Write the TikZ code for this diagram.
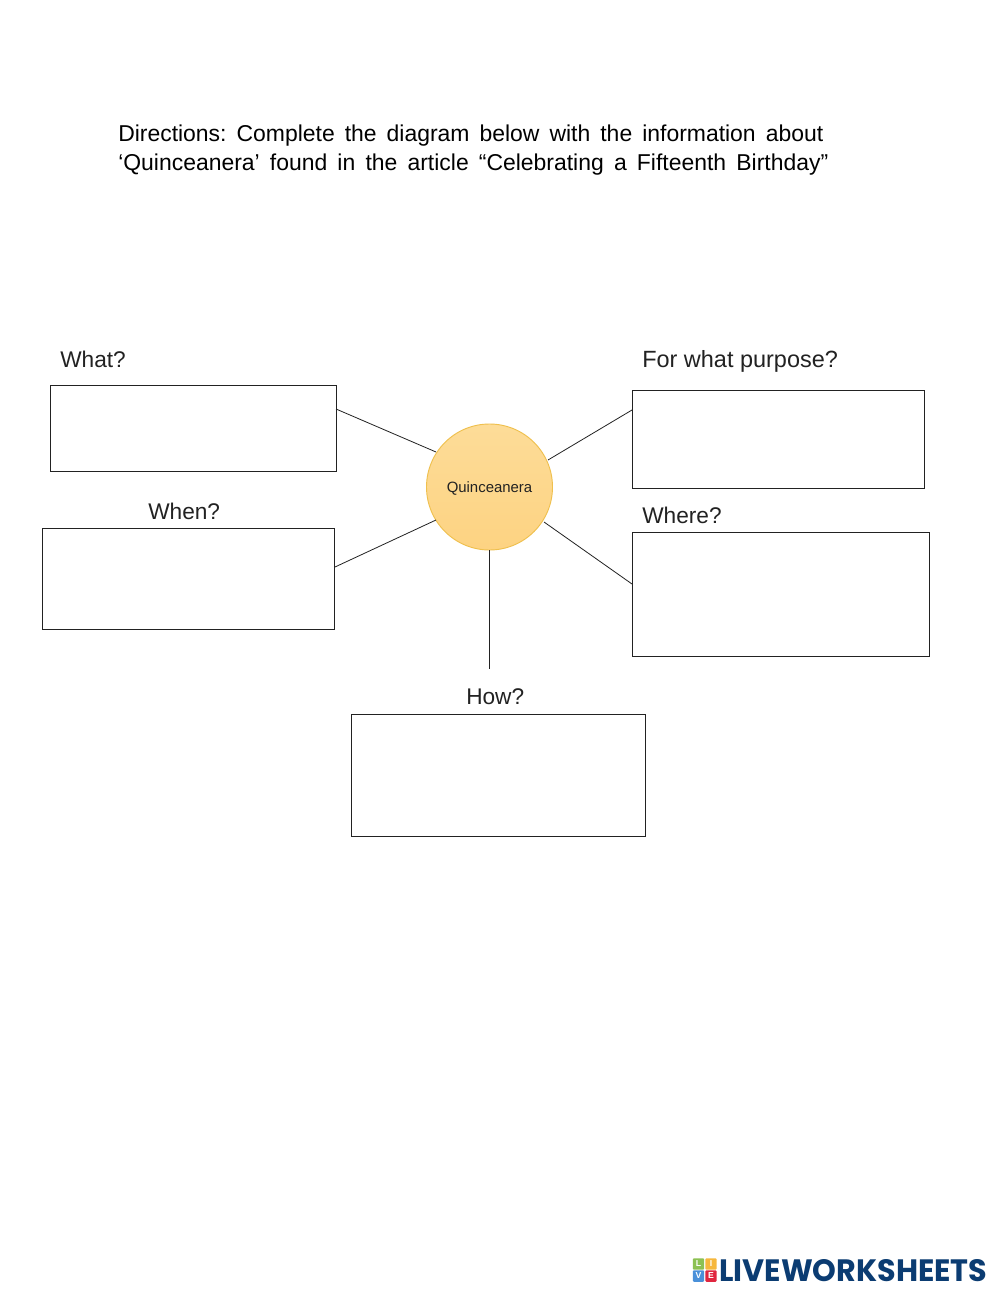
\documentclass[tikz,border=0pt]{standalone}
\usepackage{graphicx}
\usepackage{fontspec}
\setmainfont{Liberation Sans}
\newfontfamily\logofont{Poppins}
\definecolor{ink}{HTML}{222222}
\definecolor{suntop}{HTML}{FDDC98}
\definecolor{sunbot}{HTML}{FDD382}
\definecolor{sunedge}{HTML}{EFC04E}
\definecolor{navy}{HTML}{0B3C72}
\definecolor{tileL}{HTML}{8CC152}
\definecolor{tileI}{HTML}{F6B73C}
\definecolor{tileV}{HTML}{4A90D9}
\definecolor{tileE}{HTML}{E0263F}
\tikzset{
  x=0.75pt,y=-0.75pt,
  box/.style={draw=ink,line width=0.55pt,fill=white,inner sep=0,anchor=north west},
  spoke/.style={draw=ink,line width=0.6pt},
  qlabel/.style={font=\fontsize{17}{20}\selectfont,text=ink,anchor=base west,inner sep=0},
  direction/.style={font=\fontsize{17.2}{20}\selectfont\frenchspacing,text=black,anchor=base west,inner sep=0},
  tile/.style={minimum size=8.6pt,inner sep=0,rounded corners=0.8pt,text=white,font=\bfseries\fontsize{6.5}{7}\selectfont},
}
\newcommand{\rectbox}[5]{\node[box,minimum width=0.75pt*#4,minimum height=0.75pt*#5] (#1) at (#2,#3) {};}
\begin{document}
\begin{tikzpicture}
\useasboundingbox (0,0) rectangle (1000,1294);
\fill[white] (0,0) rectangle (1000,1294);
\node[direction] (d1) at (118,142) {\makebox[528.75pt][s]{Directions: Complete the diagram below with the information about}};
\node[direction] (d2) at (118,171) {\makebox[532.5pt][s]{‘Quinceanera’ found in the article “Celebrating a Fifteenth Birthday”}};
\rectbox{what}{49.5}{384.7}{286.5}{86.3}
\rectbox{when}{41.5}{527.7}{292.5}{101.3}
\rectbox{purpose}{631.5}{390.2}{292.7}{97.6}
\rectbox{where}{631.5}{531.5}{297.5}{124.7}
\rectbox{how}{351}{714}{294.3}{121.7}
\node[circle,draw=sunedge,line width=0.7pt,top color=suntop,bottom color=sunbot,minimum size=94.5pt,inner sep=0] (sun) at (489.5,487) {};
\node[font=\fontsize{11.2}{13}\selectfont,text=ink,inner sep=0] (sunlabel) at (489.5,488.5) {Quinceanera};
\coordinate (whatA) at (336,409);
\coordinate (sunA) at (436,452);
\coordinate (whenA) at (335,567);
\coordinate (sunB) at (436,520);
\coordinate (purA) at (632,410);
\coordinate (sunC) at (548,460);
\coordinate (whereA) at (632,584);
\coordinate (sunD) at (544,522);
\coordinate (sunE) at (489.5,550);
\coordinate (howA) at (489.5,669);
\draw[spoke] (whatA) -- (sunA);
\draw[spoke] (whenA) -- (sunB);
\draw[spoke] (purA) -- (sunC);
\draw[spoke] (whereA) -- (sunD);
\draw[spoke] (sunE) -- (howA);
\node[qlabel] (l1) at (60,367) {What?};
\node[qlabel] (l2) at (148,519) {When?};
\node[qlabel,font=\fontsize{17.6}{20}\selectfont] (l3) at (642,367) {For what purpose?};
\node[qlabel] (l4) at (642,523) {Where?};
\node[qlabel] (l5) at (466,704) {How?};
\node[tile,fill=tileL] (t1) at (698.5,1264) {L};
\node[tile,fill=tileI] (t2) at (711,1264) {I};
\node[tile,fill=tileV] (t3) at (698.5,1276) {V};
\node[tile,fill=tileE] (t4) at (711,1276) {E};
\node[anchor=base west,inner sep=0,text=navy] (logo) at (719,1281) {\resizebox{201pt}{16.5pt}{\logofont\bfseries LIVEWORKSHEETS}};
\end{tikzpicture}
\end{document}
